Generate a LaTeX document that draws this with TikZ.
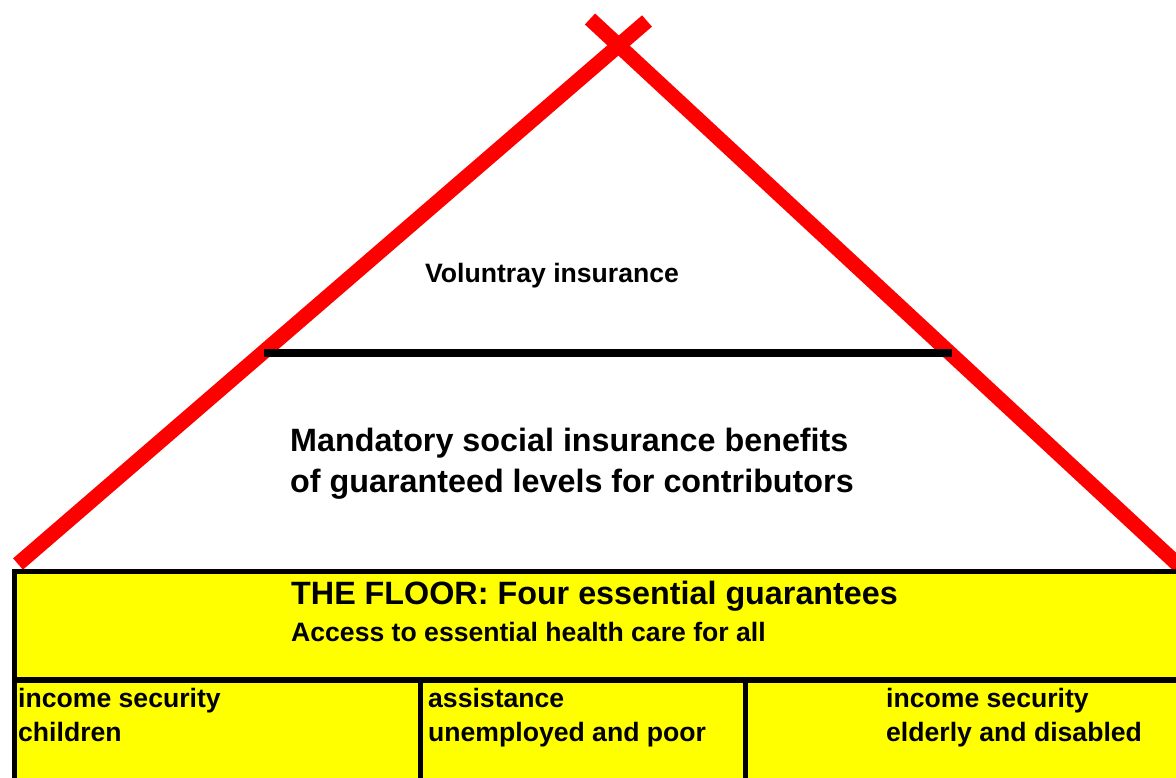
\documentclass[tikz,border=0pt]{standalone}
\usepackage{fontspec}
\setmainfont{Liberation Sans}
\definecolor{floorfill}{RGB}{255,255,0}

\begin{document}
\begin{tikzpicture}[x=1pt,y=-1pt,
    roof/.style={line width=15pt,red},
    tier/.style={line width=8.5pt,black},
    floorline/.style={line width=5pt,black},
    smalltext/.style={inner sep=0pt,anchor=base west,align=left,
      font=\fontsize{26.6}{34}\selectfont\bfseries},
    bigtext/.style={inner sep=0pt,anchor=base west,align=left,
      font=\fontsize{32.3}{41}\selectfont\bfseries}]
  \clip (0,0) rectangle (1176,777);

  \coordinate (roofL) at (18,564);
  \coordinate (roofLtop) at (647,21);
  \coordinate (roofRtop) at (590,19);
  \coordinate (roofR) at (1195,580.5);
  \coordinate (tierL) at (264,353);
  \coordinate (tierR) at (952,353);

  \draw[roof] (roofL) -- (roofLtop);
  \draw[roof] (roofRtop) -- (roofR);
  \draw[tier] (tierL) -- (tierR);

  % base of a two-line node is its last line
  \node[smalltext] (voluntary) at (425,282) {Voluntray insurance};
  \node[bigtext] (mandatory) at (290,492) {Mandatory social insurance benefits\\of guaranteed levels for contributors};

  \draw[floorline,fill=floorfill] (14.5,571.5) rectangle (1200,800);
  \draw[floorline,line width=6pt] (14.5,680) -- (1200,680);
  \draw[floorline] (420.5,680) -- (420.5,800);
  \draw[floorline] (745,680) -- (745,800);

  \node[bigtext] (floor) at (291,604) {THE FLOOR: Four essential guarantees};
  \node[smalltext] (health) at (291,641) {Access to essential health care for all};

  \node[smalltext] (children) at (18,741) {income security\\children};
  \node[smalltext] (unemployed) at (428,741) {assistance\\unemployed and poor};
  \node[smalltext] (elderly) at (886,741) {income security\\elderly and disabled};
\end{tikzpicture}
\end{document}
